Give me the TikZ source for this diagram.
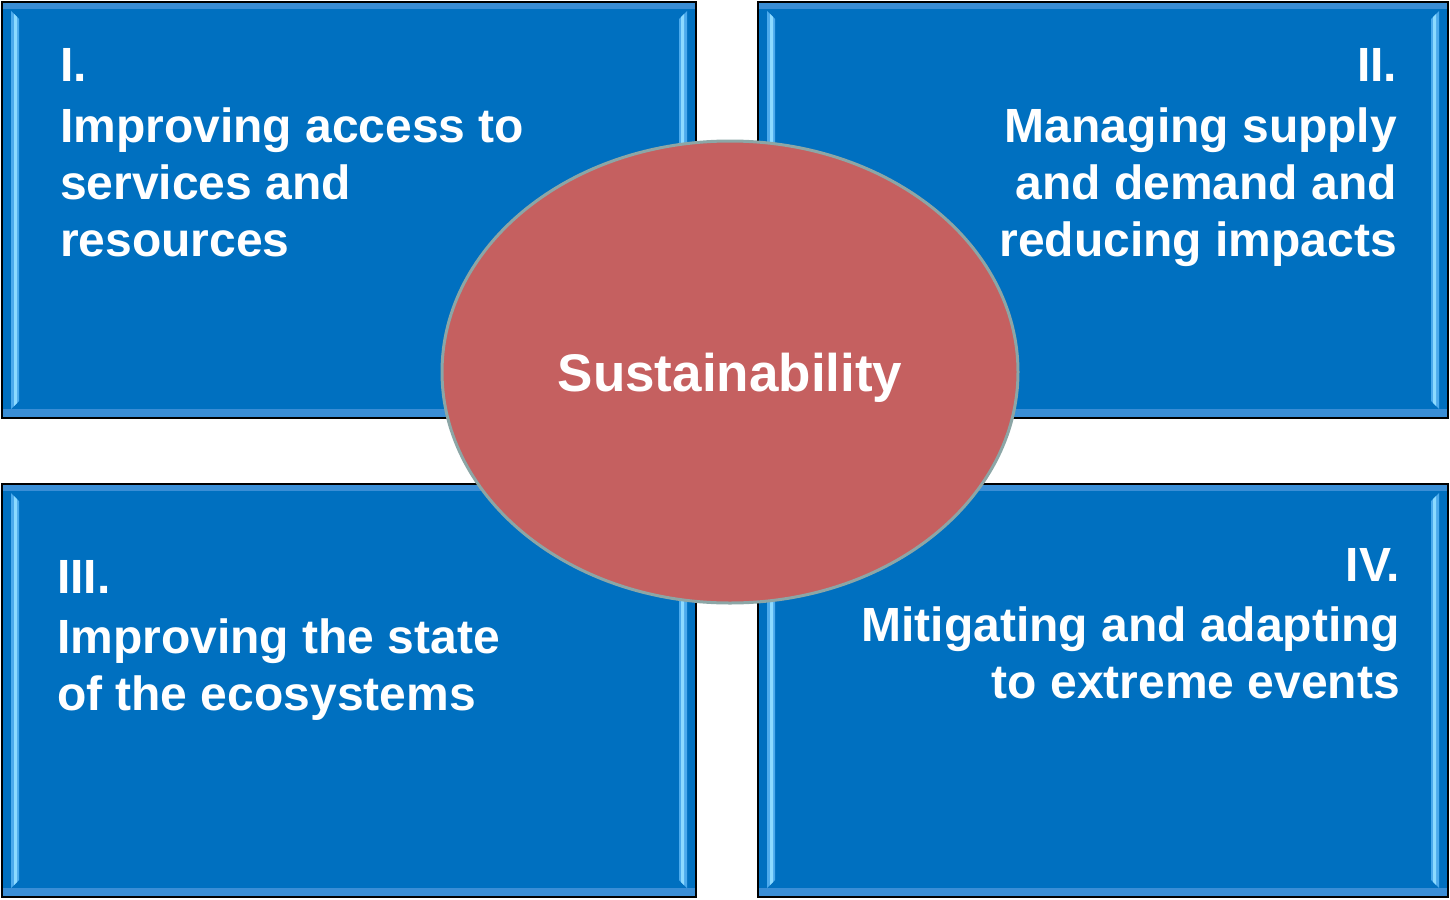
\documentclass[tikz,border=0pt]{standalone}
\usepackage{fontspec}
\setmainfont{Liberation Sans}
\usepackage{xcolor}
\usetikzlibrary{shapes.geometric}

\begin{document}
\begin{tikzpicture}[x=1pt, y=-1pt, inner sep=0pt, outer sep=0pt]

    % style
    \tikzset{font=\bfseries};
    \definecolor{myblue}{RGB}{0, 112, 192}
    \definecolor{mybevel}{RGB}{58, 142, 214}
    \definecolor{mybevelhi}{RGB}{140, 218, 255}
    \definecolor{mybevelmid}{RGB}{76, 170, 236}
    \definecolor{myred}{RGB}{197, 96, 96}
    \definecolor{myrim}{RGB}{140, 166, 166}
    \tikzset{boxtext/.style={text=white, font=\fontsize{48}{57}\selectfont\bfseries}}

    % page size
    \useasboundingbox (0,0) rectangle (1450,899);

    % four beveled blue boxes
    \foreach \ax/\ay/\bx/\by in {2/2/696/418, 758/2/1448/418, 2/484/696/897, 758/484/1448/897}
    {
        \fill [myblue] (\ax,\ay) rectangle (\bx,\by);
        \fill [mybevel] (\ax,\ay) rectangle (\bx,\ay+7); % top band
        \fill [mybevel] (\ax,\by-9) rectangle (\bx,\by); % bottom band
        \fill [mybevelmid] (\ax+9,\ay+9) -- (\ax+17,\ay+17) -- (\ax+17,\by-17) -- (\ax+9,\by-9) -- cycle; % left edge
        \fill [mybevelhi] (\ax+12,\ay+12) -- (\ax+15,\ay+15) -- (\ax+15,\by-15) -- (\ax+12,\by-12) -- cycle;
        \fill [mybevelmid] (\bx-9,\ay+9) -- (\bx-17,\ay+17) -- (\bx-17,\by-17) -- (\bx-9,\by-9) -- cycle; % right edge
        \fill [mybevelhi] (\bx-12,\ay+12) -- (\bx-15,\ay+15) -- (\bx-15,\by-15) -- (\bx-12,\by-12) -- cycle;
        \draw [black, line width=2.5pt] (\ax,\ay) rectangle (\bx,\by);
    }

    % box texts
    \node [boxtext, align=left, anchor=north west] (access) at (60,48) {I.\\[4pt]Improving access to\\services and\\resources};
    \node [boxtext, align=right, anchor=north east] (supply) at (1397,48) {II.\\[4pt]Managing supply\\and demand and\\reducing impacts};
    \node [boxtext, align=left, anchor=north west] (ecosystems) at (57,560) {III.\\[3pt]Improving the state\\of the ecosystems};
    \node [boxtext, align=right, anchor=north east] (extremes) at (1400,548) {IV.\\[3pt]Mitigating and adapting\\to extreme events};

    % centre ellipse
    \node [ellipse, fill=myred, draw=myrim, line width=3pt, minimum width=576pt, minimum height=462pt, text=white, text depth=0pt, font=\fontsize{53}{60}\selectfont\bfseries] (sustainability) at (730,372) {Sustainability};

\end{tikzpicture}
\end{document}
